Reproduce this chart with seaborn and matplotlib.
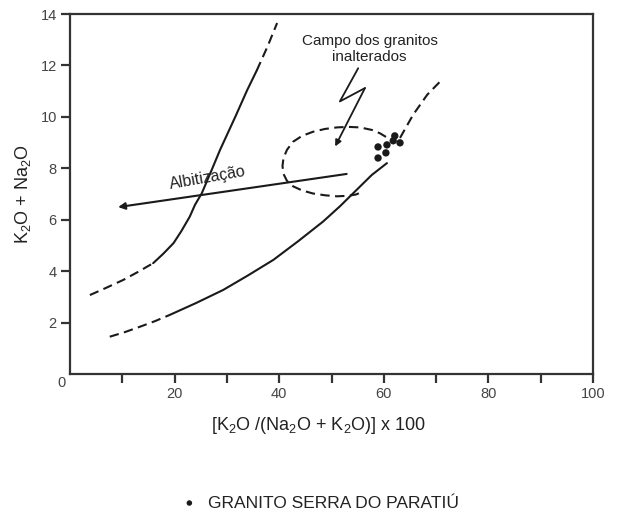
import matplotlib
matplotlib.use("Agg")
import matplotlib.pyplot as plt
from matplotlib import font_manager
import seaborn as sns
import pandas as pd

# ---------------- data ----------------
# left boundary curve
left_dash_lo_x = [3.8, 6.9, 10.2, 13.0, 15.9]
left_dash_lo_y = [3.07, 3.35, 3.66, 3.97, 4.31]
left_solid_x = [15.9, 17.8, 19.8, 21.3, 22.9, 23.9, 25.2, 27.1, 28.7, 31.6, 33.9, 35.7]
left_solid_y = [4.31, 4.67, 5.09, 5.56, 6.12, 6.58, 7.03, 7.94, 8.72, 10.0, 11.05, 11.8]
left_dash_hi_x = [35.7, 37.8, 39.6]
left_dash_hi_y = [11.8, 12.75, 13.65]

# lower/right boundary curve
low_dash_lo_x = [7.6, 10.5, 13.4, 16.3, 19.1]
low_dash_lo_y = [1.45, 1.63, 1.84, 2.06, 2.30]
low_solid_x = [19.1, 24.1, 29.3, 34.0, 38.9, 43.6, 48.4, 51.6, 54.8, 57.7, 60.6]
low_solid_y = [2.30, 2.76, 3.27, 3.83, 4.44, 5.16, 5.93, 6.52, 7.16, 7.74, 8.2]
low_dash_hi_x = [63.1, 65.6, 68.3, 70.7]
low_dash_hi_y = [9.18, 10.08, 10.86, 11.36]

# unaltered granite field (open dashed ellipse)
field_x = [60.42, 59.27, 57.74, 55.45, 53.15, 51.05, 48.76, 46.46, 44.36, 42.64, 41.49, 40.82,
           40.63, 40.82, 41.49, 42.64, 44.36, 46.46, 48.76, 51.05, 53.15, 54.68, 55.83]
field_y = [9.22, 9.36, 9.49, 9.59, 9.61, 9.59, 9.53, 9.42, 9.26, 9.03, 8.72, 8.40,
           8.09, 7.78, 7.51, 7.30, 7.14, 7.02, 6.95, 6.91, 6.93, 6.98, 7.08]

# albitisation arrow (tail -> head)
albit_x = [52.9, 9.2]
albit_y = [7.78, 6.49]

# lightning arrow from the label
bolt_x = [55.1, 51.6, 56.4, 50.7]
bolt_y = [11.89, 10.6, 11.12, 8.85]

# samples: Granito Serra do Paratiú
samp_x = [62.1, 60.6, 58.9, 60.4, 58.9, 63.1, 61.8]
samp_y = [9.26, 8.91, 8.83, 8.60, 8.40, 8.99, 9.07]

x_major = [20, 40, 60, 80, 100]
x_minor = [10, 30, 50, 70, 90]
y_ticks = [2, 4, 6, 8, 10, 12, 14]

# ---------------- style ----------------
sns.set_theme(style="white")
names = {f.name for f in font_manager.fontManager.ttflist}
narrow = "Liberation Sans Narrow" if "Liberation Sans Narrow" in names else "Liberation Sans"
plt.rcParams["font.family"] = ["Liberation Sans", "DejaVu Sans"]
plt.rcParams["mathtext.default"] = "regular"

ink = "#1a1a1a"
fig = plt.figure(figsize=(6.19, 5.13), dpi=100)
ax = fig.add_axes([70 / 619, 1 - 374 / 513, 523 / 619, 360 / 513])

lw = 1.5
dash = (0, (4.5, 2.6))


def seg(x, y, ls, width=lw):
    df = pd.DataFrame({"x": x, "y": y})
    sns.lineplot(data=df, x="x", y="y", sort=False, estimator=None, ax=ax,
                 color=ink, linewidth=width)
    line = ax.lines[-1]
    line.set_linestyle(ls)
    line.set_solid_joinstyle("round")
    line.set_dash_joinstyle("round")


seg(left_dash_lo_x, left_dash_lo_y, dash)
seg(left_solid_x, left_solid_y, "-")
seg(left_dash_hi_x, left_dash_hi_y, dash)
seg(low_dash_lo_x, low_dash_lo_y, dash)
seg(low_solid_x, low_solid_y, "-")
seg(low_dash_hi_x, low_dash_hi_y, dash)
seg(field_x, field_y, dash)

# albitisation arrow
ax.annotate("", xy=(albit_x[1], albit_y[1]), xytext=(albit_x[0], albit_y[0]),
            arrowprops=dict(arrowstyle="-|>", color=ink, lw=1.5,
                            mutation_scale=10, shrinkA=0, shrinkB=0))
ax.text(26.4, 7.63, "Albitização", rotation=10, ha="center", va="center",
        fontsize=11.5, family=[narrow, "DejaVu Sans"], color="#222222")

# lightning arrow
seg(bolt_x[:3], bolt_y[:3], "-", width=1.3)
ax.annotate("", xy=(bolt_x[3], bolt_y[3]), xytext=(bolt_x[2], bolt_y[2]),
            arrowprops=dict(arrowstyle="-|>", color=ink, lw=1.3,
                            mutation_scale=9, shrinkA=0, shrinkB=0))
ax.text(57.3, 12.63, "Campo dos granitos\ninalterados", ha="center", va="center",
        fontsize=11, family=[narrow, "DejaVu Sans"], color="#222222", linespacing=1.2)

# samples
sns.scatterplot(x=samp_x, y=samp_y, ax=ax, color=ink, s=28, edgecolor="none",
                label="GRANITO SERRA DO PARATIÚ", zorder=5)

# axes
ax.set_xlim(0, 100)
ax.set_ylim(0, 14)
ax.set_xticks(x_major)
ax.set_xticks(x_minor, minor=True)
ax.set_yticks(y_ticks)
ax.tick_params(axis="both", which="both", direction="out", length=6.5, width=1.6,
               color="#333333", bottom=True, left=True, top=False, right=False)
ax.tick_params(axis="both", which="major", pad=3)
for lab in ax.get_xticklabels() + ax.get_yticklabels():
    lab.set_family([narrow, "DejaVu Sans"])
    lab.set_fontsize(10.5)
    lab.set_color("#444444")
ax.annotate("0", xy=(0, 0), xycoords="axes fraction", xytext=(-6, -6.5),
            textcoords="offset points", ha="center", va="center",
            fontsize=10.5, family=[narrow, "DejaVu Sans"], color="#444444")
for sp in ax.spines.values():
    sp.set_visible(True)
    sp.set_linewidth(1.6)
    sp.set_color("#333333")

ax.set_xlabel(r"[K$_2$O /(Na$_2$O + K$_2$O)] x 100", fontsize=13, color="#222222")
ax.set_ylabel(r"K$_2$O + Na$_2$O", fontsize=13, color="#222222")
ax.xaxis.label.set_va("center")
ax.xaxis.set_label_coords((318 - 70) / 523, (374 - 425) / 360)
ax.yaxis.label.set_va("center")
ax.yaxis.set_label_coords((23 - 70) / 523, 0.5)

leg = ax.legend(loc="center left", bbox_to_anchor=(172 / 619, 1 - 503 / 513),
                bbox_transform=fig.transFigure, frameon=False, fontsize=12.5,
                handletextpad=0.6, markerscale=0.75, borderpad=0, handlelength=1.0)
for t in leg.get_texts():
    t.set_color("#222222")

fig.savefig("out.png", dpi=100)
